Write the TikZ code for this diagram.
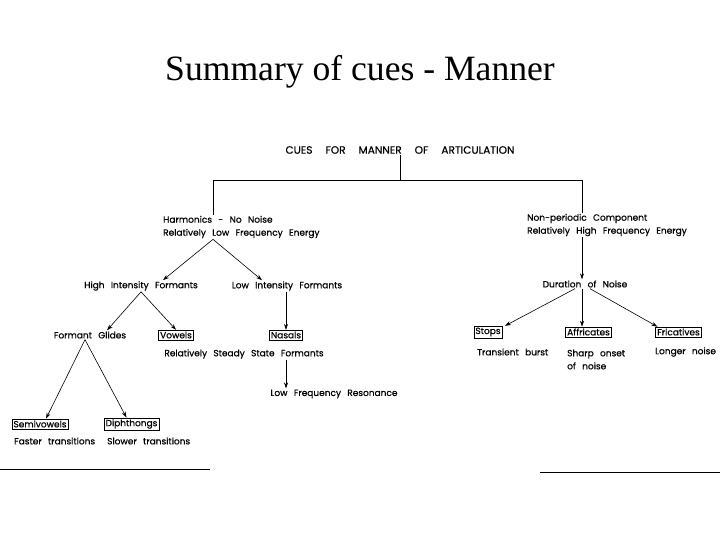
\documentclass[tikz,border=0pt]{standalone}
\usepackage{fontspec}
\setmainfont{Liberation Serif}
\newfontfamily\cuefont[FakeBold=0.6]{Poppins}
\newcommand\cuegap{\spaceskip 6.3pt plus 1pt\relax}
\newcommand\headgap{\spaceskip 13pt plus 1pt\relax}
\usetikzlibrary{positioning,arrows.meta}

\tikzset{
    cue/.style={font=\cuefont\fontsize{9}{11}\selectfont\cuegap, inner sep=1pt},
    cuebox/.style={cue, draw, line width=0.6pt, inner sep=1.5pt},
    arr/.style={-{Stealth[length=6pt,width=4pt]}, line width=0.6pt},
    bar/.style={line width=0.8pt}
}

\begin{document}
\begin{tikzpicture}[x=10pt,y=10pt]
        \useasboundingbox (0,0) rectangle (72,54);
        \node (title) at (36,46.8) {\fontsize{35.6}{40}\selectfont Summary of cues - Manner};
        \node[cue, font=\cuefont\fontsize{10.6}{12}\selectfont\headgap] (top) at (40,39) {CUES FOR MANNER OF ARTICULATION};
        \coordinate (barL) at (21.3,36);
        \coordinate (barR) at (58.2,36);
        % periodic side
        \node[cue, anchor=west, align=left] (harm) at (16.2,31.3) {Harmonics - No Noise\\[2pt]Relatively Low Frequency Energy};
        \node[cue] (hif) at (14.1,25.4) {High Intensity Formants};
        \node[cue] (lif) at (28.7,25.4) {Low Intensity Formants};
        \node[cue] (glides) at (9,20.5) {Formant Glides};
        \node[cuebox] (vowels) at (17.6,20.5) {Vowels};
        \node[cuebox] (nasals) at (28.6,20.5) {Nasals};
        \node[cue] (steady) at (24.4,18.6) {Relatively Steady State Formants};
        \node[cue] (lfr) at (33.4,14.6) {Low Frequency Resonance};
        \node[cuebox] (semi) at (4,11.6) {Semivowels};
        \node[cuebox] (diph) at (13.15,11.6) {Diphthongs};
        \node[cue, anchor=west] (faster) at (1.3,9.9) {Faster transitions};
        \node[cue, anchor=west] (slower) at (10.6,9.9) {Slower transitions};
        % noise side
        \node[cue, anchor=west, align=left] (nonper) at (52.6,31.5) {Non-periodic Component\\[2pt]Relatively High Frequency Energy};
        \node[cue] (dur) at (58.5,25.6) {Duration of Noise};
        \node[cuebox] (stops) at (48.8,20.8) {Stops};
        \node[cuebox] (affr) at (58.85,20.8) {Affricates};
        \node[cuebox] (fric) at (67.85,20.8) {Fricatives};
        \node[cue, anchor=west] (burst) at (47.6,18.8) {Transient burst};
        \node[cue, anchor=west, align=left] (sharp) at (56.6,18.05) {Sharp onset\\[2pt]of noise};
        \node[cue, anchor=west] (longer) at (65.4,18.8) {Longer noise};
        % rules
        \coordinate (ruleA) at (0,7.1);
        \coordinate (ruleB) at (21,7.1);
        \coordinate (ruleC) at (54,6.8);
        \coordinate (ruleD) at (72,6.8);

        \draw[bar] (top.south) -- (top.south |- barL);
        \draw[bar] (barL |- harm.north) -- (barL) -- (barR) -- (barR |- nonper.north);
        \draw[arr] (barL |- harm.south) -- ([xshift=22pt]hif.north);
        \draw[arr] (barL |- harm.south) -- ([xshift=-25pt]lif.north);
        \draw[arr] (hif.south) -- ([xshift=17pt]glides.north);
        \draw[arr] (hif.south) -- (vowels.north);
        \draw[arr] (lif.south -| nasals) -- (nasals.north);
        \draw[arr] (steady.south -| nasals) -- (nasals |- lfr.north);
        \draw[arr] ([xshift=-5pt]glides.south) -- ([xshift=6pt]semi.north);
        \draw[arr] ([xshift=-5pt]glides.south) -- ([xshift=-5pt]diph.north);
        \draw[arr] (barR |- nonper.south) -- (barR |- dur.north);
        \draw[arr] ([xshift=-10pt]dur.south) -- ([xshift=17pt]stops.north);
        \draw[arr] (barR |- dur.south) -- (barR |- affr.north);
        \draw[arr] ([xshift=5pt]dur.south) -- ([xshift=-21pt]fric.north);
        \draw[line width=0.8pt] (ruleA) -- (ruleB);
        \draw[line width=0.8pt] (ruleC) -- (ruleD);
    \end{tikzpicture}
\end{document}
